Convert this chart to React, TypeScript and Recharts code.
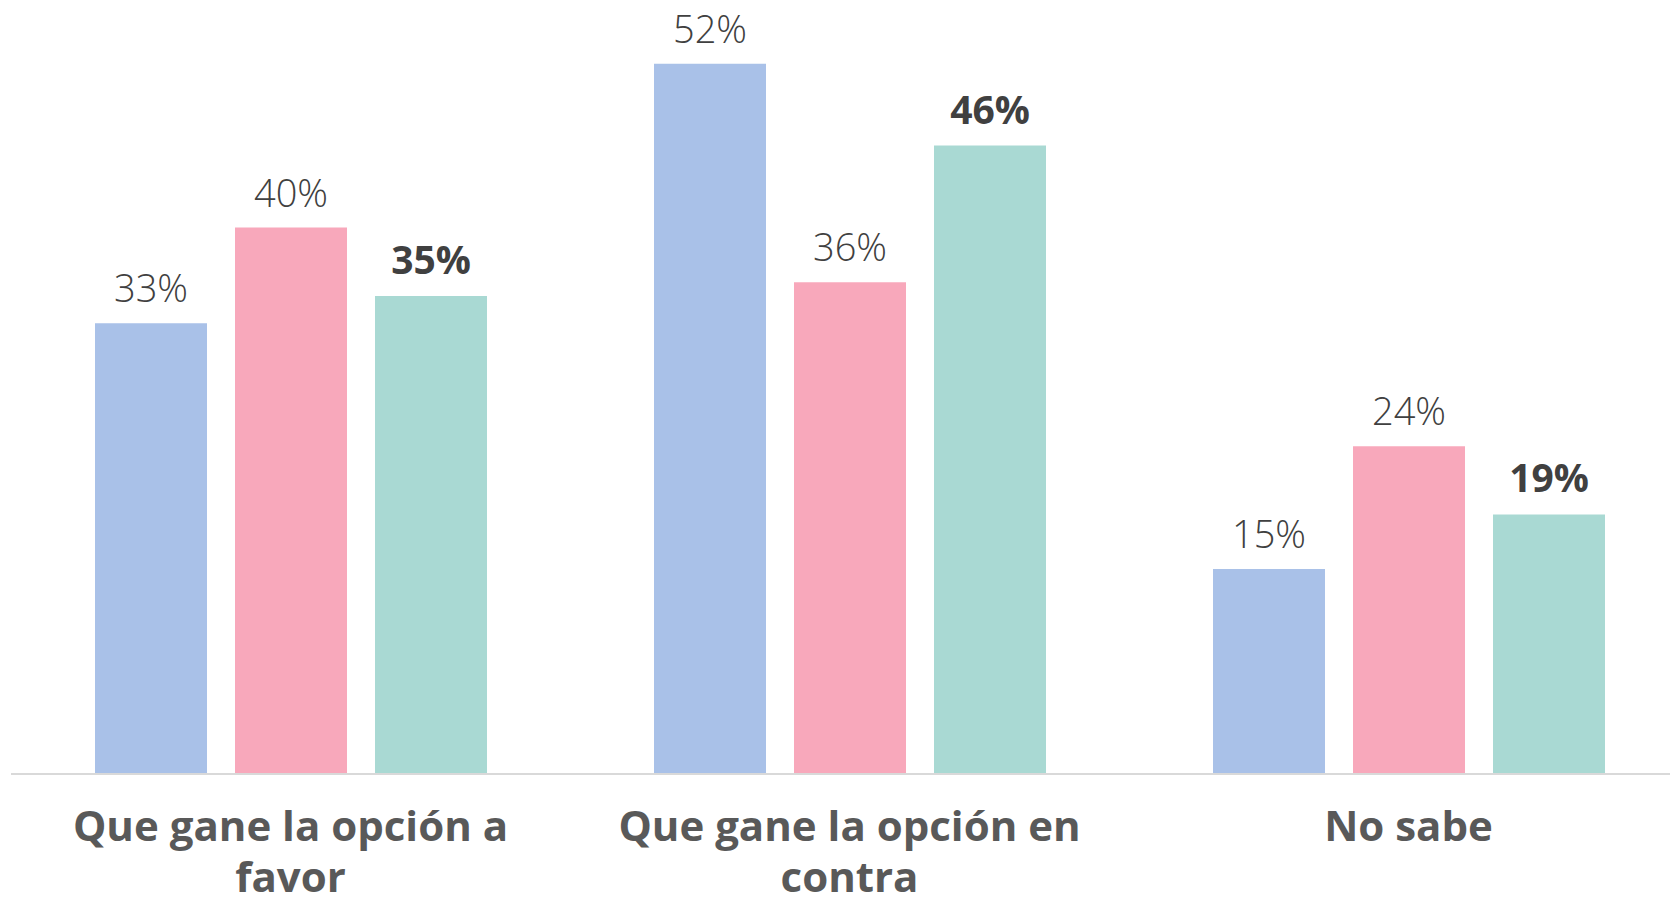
import React from 'react';
import { BarChart, Bar, XAxis, YAxis, LabelList } from 'recharts';

const categories = ['Que gane la opción a favor', 'Que gane la opción en contra', 'No sabe'];
const serie1 = [33, 52, 15];
const serie2 = [40, 36, 24];
const serie3 = [35, 46, 19];

const data = categories.map((name, i) => ({
  name,
  s1: serie1[i],
  s2: serie2[i],
  s3: serie3[i],
}));

const FONT = '"Open Sans", "DejaVu Sans", sans-serif';

// simple word wrap by character count
const wrap = (s: string, maxChars: number) => {
  const lines: string[] = [];
  let cur = '';
  s.split(' ').forEach((w) => {
    const next = cur ? `${cur} ${w}` : w;
    if (next.length > maxChars && cur) {
      lines.push(cur);
      cur = w;
    } else {
      cur = next;
    }
  });
  if (cur) lines.push(cur);
  return lines;
};

const CategoryTick = (props: any) => {
  const { x, y, payload } = props;
  const lines = wrap(String(payload.value), 21);
  return (
    <g>
      {lines.map((l, i) => (
        <text
          key={i}
          x={x}
          y={y + 59 + i * 51}
          textAnchor="middle"
          fill="#595959"
          fontSize={42}
          fontWeight={700}
          fontFamily={FONT}
        >
          {l}
        </text>
      ))}
    </g>
  );
};

const fmt = (v: any) => `${v}%`;

const App: React.FC = () => {
  return (
    <div style={{ position: 'absolute', left: 0, top: 0, width: 1670, height: 898, overflow: 'hidden', background: '#fff' }}>
      <BarChart
        width={1690}
        height={898}
        data={data}
        margin={{ top: 9, right: 2, left: 11, bottom: 0 }}
        barSize={112}
        barGap={28}
      >
        <YAxis hide domain={[0, 56]} />
        <XAxis
          dataKey="name"
          height={124}
          axisLine={{ stroke: '#D9D9D9', strokeWidth: 2 }}
          tickLine={false}
          interval={0}
          tick={<CategoryTick />}
        />
        <Bar dataKey="s1" fill="#A9C1E8" isAnimationActive={false}>
          <LabelList dataKey="s1" position="top" offset={21} formatter={fmt}
            fill="#404040" fontSize={38} fontWeight={300} fontFamily={FONT} />
        </Bar>
        <Bar dataKey="s2" fill="#F8A8BB" isAnimationActive={false}>
          <LabelList dataKey="s2" position="top" offset={21} formatter={fmt}
            fill="#404040" fontSize={38} fontWeight={300} fontFamily={FONT} />
        </Bar>
        <Bar dataKey="s3" fill="#A9D9D3" isAnimationActive={false}>
          <LabelList dataKey="s3" position="top" offset={22} formatter={fmt}
            fill="#404040" fontSize={39} fontWeight={700} fontFamily={FONT} />
        </Bar>
      </BarChart>
    </div>
  );
};

export default App;
